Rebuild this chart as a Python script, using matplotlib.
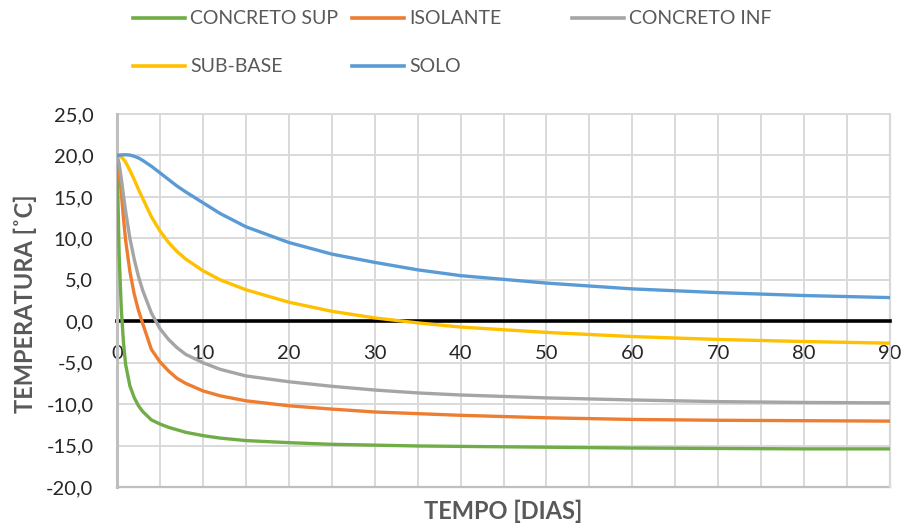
import matplotlib
matplotlib.use("Agg")
import matplotlib.pyplot as plt
from matplotlib.lines import Line2D
from matplotlib.ticker import MultipleLocator, FuncFormatter

# ---- data ----
days = [0, 0.25, 0.5, 0.75, 1, 1.5, 2, 2.5, 3, 4, 5, 6, 7, 8, 10, 12, 15,
        20, 25, 30, 35, 40, 50, 60, 70, 80, 90]

concreto_sup = [20, 8.0, 1.5, -2.5, -5.2, -7.8, -9.2, -10.2, -10.9, -11.9, -12.4,
                -12.8, -13.1, -13.4, -13.8, -14.1, -14.4, -14.65, -14.85, -14.95,
                -15.05, -15.1, -15.2, -15.3, -15.35, -15.4, -15.4]
isolante = [20, 18.0, 15.5, 12.5, 9.8, 6.0, 3.3, 1.3, -0.3, -3.4, -4.9, -6.0, -6.9,
            -7.5, -8.4, -9.0, -9.6, -10.2, -10.6, -10.95, -11.15, -11.35, -11.65,
            -11.85, -11.95, -12.0, -12.05]
concreto_inf = [20, 19.0, 17.2, 15.2, 13.3, 10.0, 7.5, 5.4, 3.7, 1.0, -0.9, -2.2,
                -3.2, -4.0, -5.0, -5.8, -6.6, -7.3, -7.85, -8.3, -8.65, -8.9, -9.25,
                -9.5, -9.7, -9.8, -9.85]
sub_base = [20, 19.95, 19.8, 19.55, 19.2, 18.2, 17.1, 15.9, 14.8, 12.6, 10.9, 9.5,
            8.4, 7.5, 6.1, 5.0, 3.8, 2.3, 1.2, 0.4, -0.2, -0.7, -1.35, -1.85,
            -2.2, -2.45, -2.65]
solo = [20, 20.03, 20.06, 20.08, 20.08, 20.05, 19.9, 19.7, 19.4, 18.7, 17.9, 17.1,
        16.3, 15.6, 14.3, 13.0, 11.4, 9.5, 8.1, 7.1, 6.2, 5.5, 4.6, 3.9, 3.45,
        3.1, 2.85]

series_names = ["CONCRETO SUP", "ISOLANTE", "CONCRETO INF", "SUB-BASE", "SOLO"]
series_values = [concreto_sup, isolante, concreto_inf, sub_base, solo]
series_colors = ["#70ad47", "#ed7d31", "#a5a5a5", "#ffc000", "#5b9bd5"]

x_ticks = [0, 10, 20, 30, 40, 50, 60, 70, 80, 90]
y_ticks = [-20, -15, -10, -5, 0, 5, 10, 15, 20, 25]

# ---- figure ----
plt.rcParams['font.family'] = ['Lato', 'DejaVu Sans']
W, H = 909, 529
fig = plt.figure(figsize=(W / 100, H / 100), dpi=100)
L, R, T, B = 117, 890, 114, 487
ax = fig.add_axes([L / W, 1 - B / H, (R - L) / W, (B - T) / H])

grid_c = "#d9d9d9"
for sp in ["top", "right"]:
    ax.spines[sp].set_visible(False)
ax.spines["left"].set_color("#bfbfbf")
ax.spines["left"].set_linewidth(2.2)
ax.spines["bottom"].set_position(("data", 0))
ax.spines["bottom"].set_color("black")
ax.spines["bottom"].set_linewidth(2.6)
ax.spines["bottom"].set_zorder(2)

ax.set_xlim(0, 90)
ax.set_ylim(-20, 25)
ax.xaxis.set_minor_locator(MultipleLocator(5))
ax.set_xticks(x_ticks)
ax.set_yticks(y_ticks)
ax.yaxis.set_major_formatter(FuncFormatter(lambda v, p: f"{v:.1f}".replace(".", ",")))
ax.tick_params(axis="both", which="both", length=0, labelsize=14.5, colors="#262626")
ax.tick_params(axis="x", pad=17)
ax.tick_params(axis="y", pad=17)

ax.grid(True, which="major", axis="both", color=grid_c, linewidth=1.4, zorder=0)
ax.grid(True, which="minor", axis="x", color=grid_c, linewidth=1.4, zorder=0)
ax.axhline(-20, color="#bfbfbf", linewidth=1.6, zorder=1, clip_on=False)
ax.axvline(90, color=grid_c, linewidth=1.6, zorder=1, clip_on=False)
ax.axhline(25, color=grid_c, linewidth=1.4, zorder=1, clip_on=False)
ax.set_axisbelow(True)

for name, vals, col in zip(series_names, series_values, series_colors):
    ax.plot(days, vals, color=col, linewidth=2.4, label=name, zorder=3,
            solid_capstyle="round", solid_joinstyle="round")

fig.text(503 / W, 1 - 511 / H, "TEMPO [DIAS]", fontsize=17, fontweight="bold",
         color="#595959", ha="center", va="center")
fig.text(25 / W, 1 - 304 / H, "TEMPERATURA [˚C]", fontsize=17, fontweight="bold",
         color="#595959", ha="center", va="center", rotation=90)

# ---- legend (Excel-like fixed columns, row-wise order) ----
col_x = [133, 352, 572]
row_y = [18, 66]
for i, (name, col) in enumerate(zip(series_names, series_colors)):
    r, c = divmod(i, 3)
    x0 = col_x[c]
    y0 = 1 - row_y[r] / H
    fig.add_artist(Line2D([x0 / W, (x0 + 52) / W], [y0, y0], color=col,
                          linewidth=2.6, transform=fig.transFigure))
    fig.text((x0 + 57) / W, y0, name, fontsize=14, color="#595959",
             va="center", ha="left")

fig.savefig("out.png", dpi=100)
